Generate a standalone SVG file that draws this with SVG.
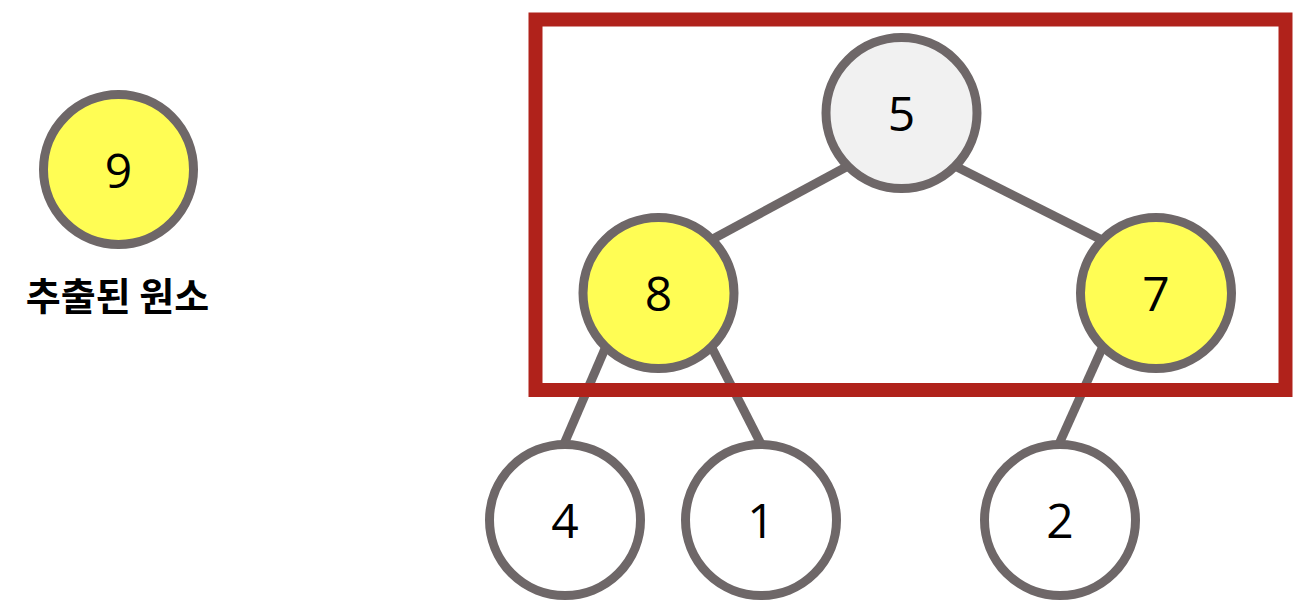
<svg xmlns="http://www.w3.org/2000/svg" width="1306" height="606" viewBox="0 0 1306 606">
<style>
.edge{stroke:#6e6768;stroke-width:9;fill:none}
.node{stroke:#6e6768;stroke-width:9}
.yellow{fill:#fffd54}
.white{fill:#ffffff}
.root{fill:#f1f1f1}
.num{font-family:"Open Sans","Noto Sans",sans-serif;font-size:48px;fill:#000;text-anchor:middle}
.label{font-family:"Noto Sans CJK KR","Noto Sans",sans-serif;font-size:38px;font-weight:bold;fill:#000;text-anchor:middle}
</style>
<rect x="0" y="0" width="1306" height="606" fill="#ffffff"/>
<g id="connectors">
<line class="edge" x1="848" y1="166" x2="711" y2="240"/>
<line class="edge" x1="955" y1="166" x2="1102" y2="240"/>
<line class="edge" x1="607" y1="344" x2="564" y2="444"/>
<line class="edge" x1="710" y1="344" x2="761" y2="444"/>
<line class="edge" x1="1104" y1="344" x2="1059" y2="444"/>
</g>
<g id="highlight">
<rect x="535.5" y="19.5" width="750" height="370.5" fill="none" stroke="#b0221b" stroke-width="14"/>
</g>
<g id="extracted">
<circle class="node yellow" cx="118.5" cy="169.5" r="75"/>
<text class="num" x="118.5" y="187.5">9</text>
<text class="label" x="117.5" y="310">추출된 원소</text>
</g>
<g id="node5">
<circle class="node root" cx="901.5" cy="113" r="75.5"/>
<text class="num" x="901.5" y="131">5</text>
</g>
<g id="node8">
<circle class="node yellow" cx="658.5" cy="293" r="75.5"/>
<text class="num" x="658.5" y="311">8</text>
</g>
<g id="node7">
<circle class="node yellow" cx="1156" cy="293" r="75.5"/>
<text class="num" x="1156" y="311">7</text>
</g>
<g id="node4">
<circle class="node white" cx="565" cy="520" r="75.5"/>
<text class="num" x="565" y="538">4</text>
</g>
<g id="node1">
<circle class="node white" cx="761" cy="520" r="75.5"/>
<text class="num" x="761" y="538">1</text>
</g>
<g id="node2">
<circle class="node white" cx="1060" cy="520" r="75.5"/>
<text class="num" x="1060" y="538">2</text>
</g>
</svg>
